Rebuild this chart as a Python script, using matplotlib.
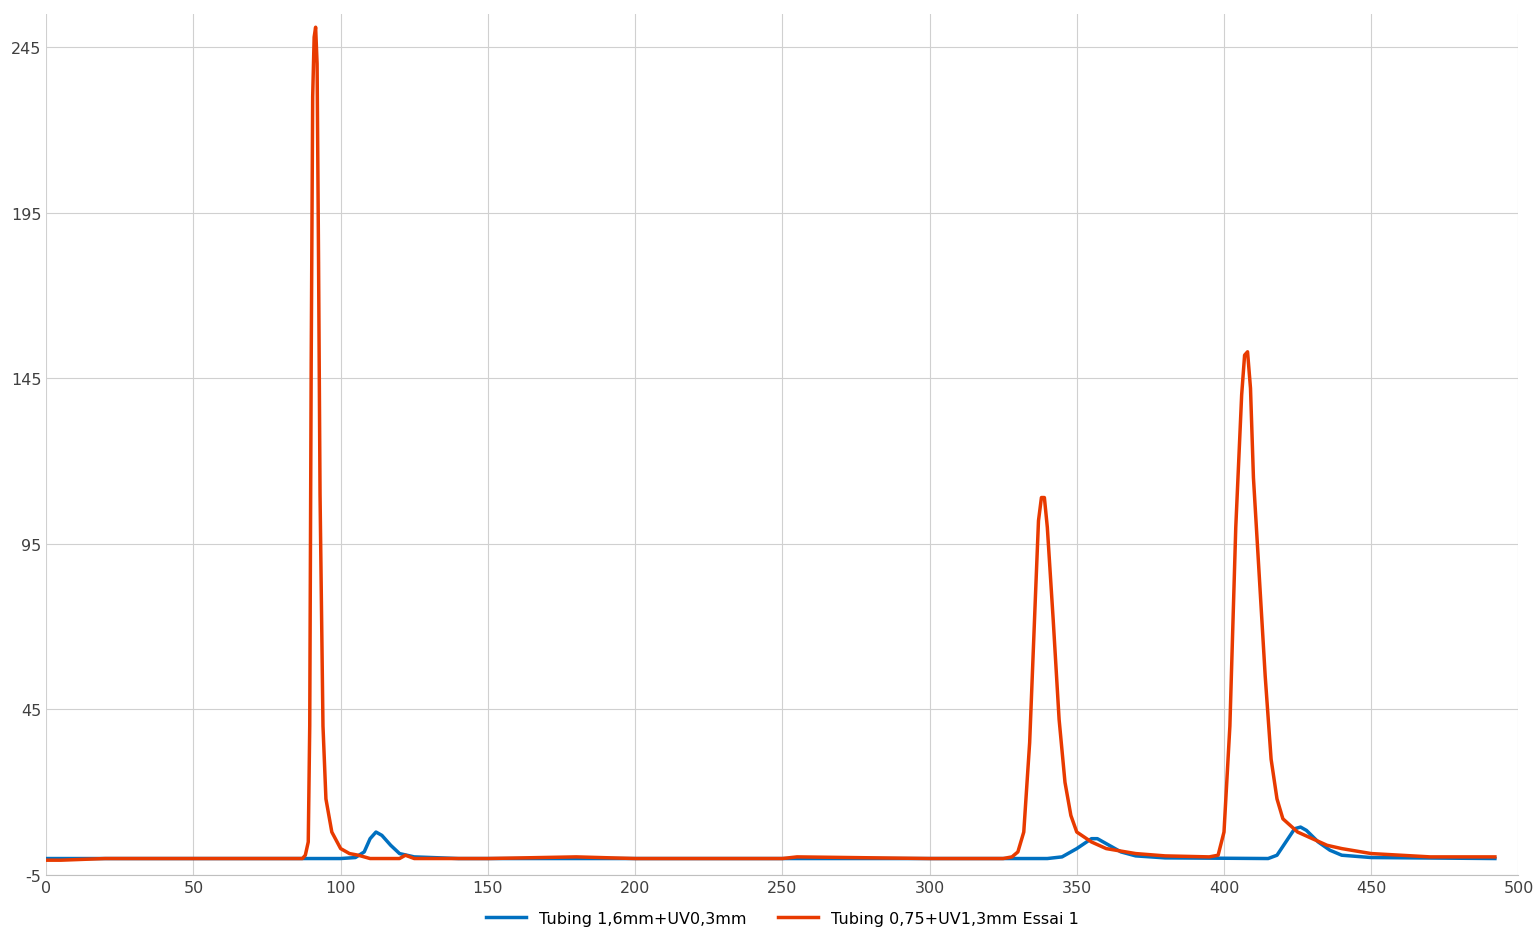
import matplotlib
matplotlib.use("Agg")
import matplotlib.pyplot as plt
plt.rcParams['axes.unicode_minus'] = False

red_x = [0,5,20,50,80,87,88,89,89.5,90,90.5,91,91.5,92,92.5,93,94,95,97,100,103,106,110,120,122,125,150,180,200,250,255,300,325,328,330,332,334,336,337,338,339,340,342,344,346,348,350,355,360,370,380,395,398,400,402,404,406,407,408,409,410,412,414,416,418,420,425,430,435,440,450,460,470,492]
red_y = [-0.5,-0.5,0,0,0,0,1,5,40,150,230,248,251,240,180,110,40,18,8,3,1.5,1,0,0,1,0,0,0.5,0,0,0.5,0,0,0.5,2,8,35,80,102,109,109,100,72,42,23,13,8,5,3,1.5,0.8,0.5,1,8,40,100,140,152,153,142,115,85,55,30,18,12,8,6,4,3,1.5,1,0.5,0.5]
blue_x = [0,100,105,108,110,112,114,117,120,125,140,340,345,350,355,357,360,365,370,380,415,418,421,424,426,428,432,436,440,450,492]
blue_y = [0,0,0.3,2,6,8,7,4,1.5,0.5,0,0,0.5,3,6,6,4.5,2,0.8,0.2,0,1,5,9,9.5,8.5,5,2.5,1,0.3,0]

fig = plt.figure(figsize=(15.4, 9.37), dpi=100)
ax = fig.add_axes([0.030, 0.065, 0.956, 0.919])
ax.plot(blue_x, blue_y, color="#0070C0", lw=2.5, label="Tubing 1,6mm+UV0,3mm")
ax.plot(red_x, red_y, color="#E83A00", lw=2.5, label="Tubing 0,75+UV1,3mm Essai 1")
ax.set_xlim(0, 500)
ax.set_ylim(-5, 255)
ax.set_xticks(range(0, 501, 50))
ax.set_yticks(range(-5, 246, 50))
ax.grid(True, color="#D0D0D0", lw=0.8)
for s in ["top", "right", "left"]:
    ax.spines[s].set_visible(False)
ax.spines["bottom"].set_color("#BFBFBF")
ax.tick_params(length=0, labelsize=11.5, colors="#404040")
ax.legend(loc="upper center", bbox_to_anchor=(0.5, -0.025), ncol=2, frameon=False, fontsize=11.5, handlelength=2.5)
fig.savefig("out.png")
